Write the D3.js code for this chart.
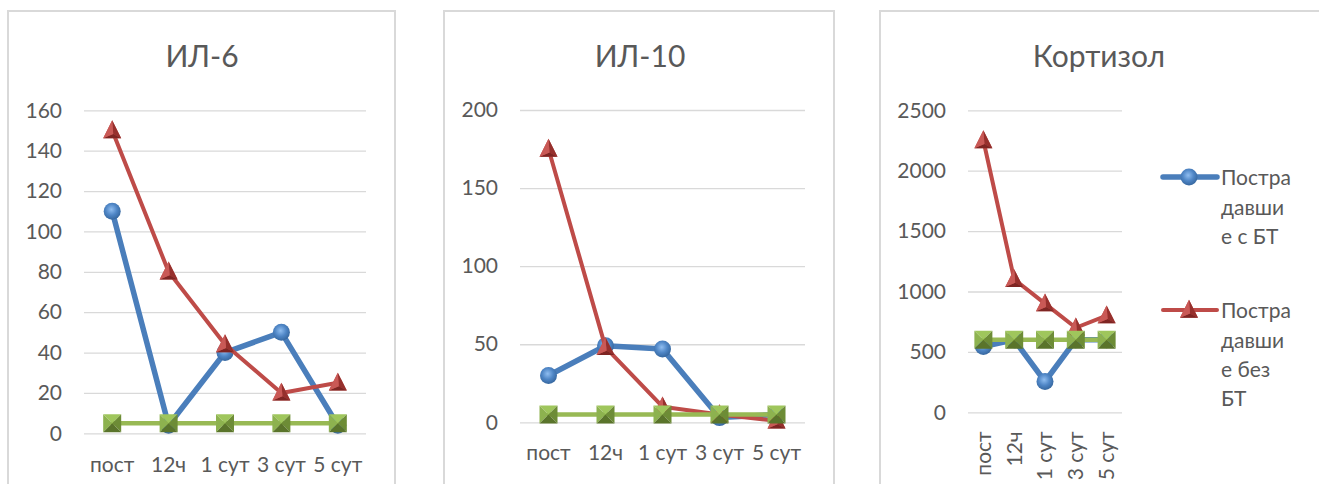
<!DOCTYPE html>
<html><head><meta charset="utf-8">
<script src="https://cdn.jsdelivr.net/npm/d3@7"></script>
<style>
html,body{margin:0;padding:0;background:#fff;}
svg{display:block;font-family:Lato,"Open Sans",sans-serif;}
</style></head>
<body>
<svg id="c" width="1319" height="484"></svg>
<script>
const categories = ["пост","12ч","1 сут","3 сут","5 сут"];
const seriesNames = ["Пострадавшие с БТ","Пострадавшие без БТ","Норма"];
const legendLines1 = ["Постра","давши","е с БТ"];
const legendLines2 = ["Постра","давши","е без","БТ"];

const il6Titles = "ИЛ-6";
const il6WithBT = [110, 4, 40, 50, 4];
const il6WithoutBT = [150, 80, 44, 20, 25];
const il6Norm = [5, 5, 5, 5, 5];
const il6Ticks = [0, 20, 40, 60, 80, 100, 120, 140, 160];

const il10Title = "ИЛ-10";
const il10WithBT = [30, 49, 47, 3, 5];
const il10WithoutBT = [175, 48, 10, 5, 1];
const il10Norm = [5, 5, 5, 5, 5];
const il10Ticks = [0, 50, 100, 150, 200];

const cortTitle = "Кортизол";
const cortWithBT = [545, 600, 255, 600, 600];
const cortWithoutBT = [2250, 1100, 900, 700, 800];
const cortNorm = [600, 600, 600, 600, 600];
const cortTicks = [0, 500, 1000, 1500, 2000, 2500];

const svg = d3.select("#c");
const defs = svg.append("defs");
const rg = defs.append("radialGradient").attr("id","blueBall").attr("cx","45%").attr("cy","40%").attr("r","60%");
rg.append("stop").attr("offset","0%").attr("stop-color","#8fbdf0");
rg.append("stop").attr("offset","55%").attr("stop-color","#4f86c6");
rg.append("stop").attr("offset","100%").attr("stop-color","#36679f");

const BLUE="#4A7EBB", RED="#BE4B48", GREEN="#98B954";
const TXT="#595959";

function drawCircle(g, x, y){
  g.append("circle").attr("cx",x).attr("cy",y).attr("r",8.5).attr("fill","url(#blueBall)");
}
function drawTri(g, x, y){
  const h=17, w=18;
  const top=[x, y-h*0.6], bl=[x-w/2, y+h*0.45], br=[x+w/2, y+h*0.45], c=[x+1, y+h*0.2];
  const p = pts => "M"+pts.map(q=>q.join(",")).join("L")+"Z";
  g.append("path").attr("d",p([top,bl,br])).attr("fill","#c0504d");
  g.append("path").attr("d",p([top,c,br])).attr("fill","#96302d");
  g.append("path").attr("d",p([bl,c,br])).attr("fill","#7e2523");
  g.append("path").attr("d",p([top,bl,c])).attr("fill","#c95956");
}
function drawSq(g, x, y){
  const s=9;
  const tl=[x-s,y-s], tr=[x+s,y-s], bl=[x-s,y+s], br=[x+s,y+s], c=[x,y];
  const p = pts => "M"+pts.map(q=>q.join(",")).join("L")+"Z";
  g.append("path").attr("d",p([tl,tr,c])).attr("fill","#9fc65c");
  g.append("path").attr("d",p([tl,bl,c])).attr("fill","#8db24f");
  g.append("path").attr("d",p([tr,br,c])).attr("fill","#6d8c36");
  g.append("path").attr("d",p([bl,br,c])).attr("fill","#5a742b");
}

function panel(cfg){
  const g = svg.append("g");
  g.append("rect").attr("x",cfg.fx).attr("y",11).attr("width",cfg.fw).attr("height",520)
    .attr("fill","#fff").attr("stroke","#d9d9d9").attr("stroke-width",2);
  g.append("text").attr("x",cfg.tx).attr("y",67).attr("text-anchor","middle")
    .attr("font-size",30).attr("fill",TXT).text(cfg.title);

  const x = d3.scaleBand().domain(categories).range([cfg.x0,cfg.x1]);
  const y = d3.scaleLinear().domain([0, cfg.max]).range([cfg.y0, cfg.yTop]);
  const cx = c => x(c) + x.bandwidth()/2;

  const grid = g.append("g").attr("transform",`translate(${cfg.x0},0)`)
    .call(d3.axisLeft(y).tickValues(cfg.ticks).tickSize(-(cfg.x1-cfg.x0)).tickFormat(""));
  grid.select(".domain").remove();
  grid.selectAll("line").attr("stroke","#d9d9d9").attr("stroke-width",1.3);

  const ya = g.append("g").attr("transform",`translate(${cfg.x0},0)`)
    .call(d3.axisLeft(y).tickValues(cfg.ticks).tickFormat(d3.format("d")).tickSize(0).tickPadding(22));
  ya.select(".domain").remove();
  ya.selectAll("text").attr("font-size",21).attr("fill",TXT).attr("font-family","Lato");

  const xa = g.append("g").attr("transform",`translate(0,${cfg.y0})`)
    .call(d3.axisBottom(x).tickSize(0).tickPadding(0));
  xa.select(".domain").remove();
  xa.selectAll("line").remove();
  if(cfg.rotate){
    xa.selectAll("text").attr("font-size",21).attr("fill",TXT).attr("font-family","Lato")
      .attr("text-anchor","end").attr("dy","0.35em")
      .attr("transform","translate(0,19) rotate(-90)").attr("x",0).attr("y",0);
  } else {
    xa.selectAll("text").attr("font-size",21).attr("fill",TXT).attr("font-family","Lato")
      .attr("dy",0).attr("y",cfg.xLabY);
  }

  const line = d3.line().x((d,i)=>cx(categories[i])).y(d=>y(d));
  const ser = [
    {v:cfg.s1, color:BLUE, w:5.5, m:drawCircle},
    {v:cfg.s2, color:RED, w:4, m:drawTri},
    {v:cfg.s3, color:GREEN, w:4.5, m:drawSq}
  ];
  ser.forEach(s=>{
    const sg = g.append("g");
    sg.append("path").attr("d",line(s.v)).attr("fill","none").attr("stroke",s.color)
      .attr("stroke-width",s.w).attr("stroke-linejoin","round").attr("stroke-linecap","round");
    s.v.forEach((d,i)=> s.m(sg, cx(categories[i]), y(d)));
  });
  return g;
}

panel({fx:8, fw:387, tx:202, title:il6Titles, x0:84, x1:366, y0:433.3, yTop:110.3, max:160,
  ticks:il6Ticks, s1:il6WithBT, s2:il6WithoutBT, s3:il6Norm, xLabY:39});
panel({fx:444, fw:390, tx:640, title:il10Title, x0:520, x1:805, y0:422.3, yTop:110, max:200,
  ticks:il10Ticks, s1:il10WithBT, s2:il10WithoutBT, s3:il10Norm, xLabY:38});
panel({fx:880, fw:445, tx:1099, title:cortTitle, x0:968, x1:1122, y0:412.3, yTop:110.3, max:2500,
  ticks:cortTicks, s1:cortWithBT, s2:cortWithoutBT, s3:cortNorm, rotate:true});

const leg = [
  {lines:legendLines1, y:177, color:BLUE, w:5.5, m:drawCircle},
  {lines:legendLines2, y:310, color:RED, w:4, m:drawTri}
];
leg.forEach(l=>{
  const g = svg.append("g");
  g.append("line").attr("x1",1163).attr("x2",1217).attr("y1",l.y).attr("y2",l.y)
    .attr("stroke",l.color).attr("stroke-width",l.w).attr("stroke-linecap","round");
  l.m(g, 1189, l.y);
  l.lines.forEach((t,i)=>{
    g.append("text").attr("x",1221).attr("y",l.y+1+i*29.3).attr("dy","0.35em")
      .attr("font-size",21).attr("fill",TXT).text(t);
  });
});
</script>
</body></html>
